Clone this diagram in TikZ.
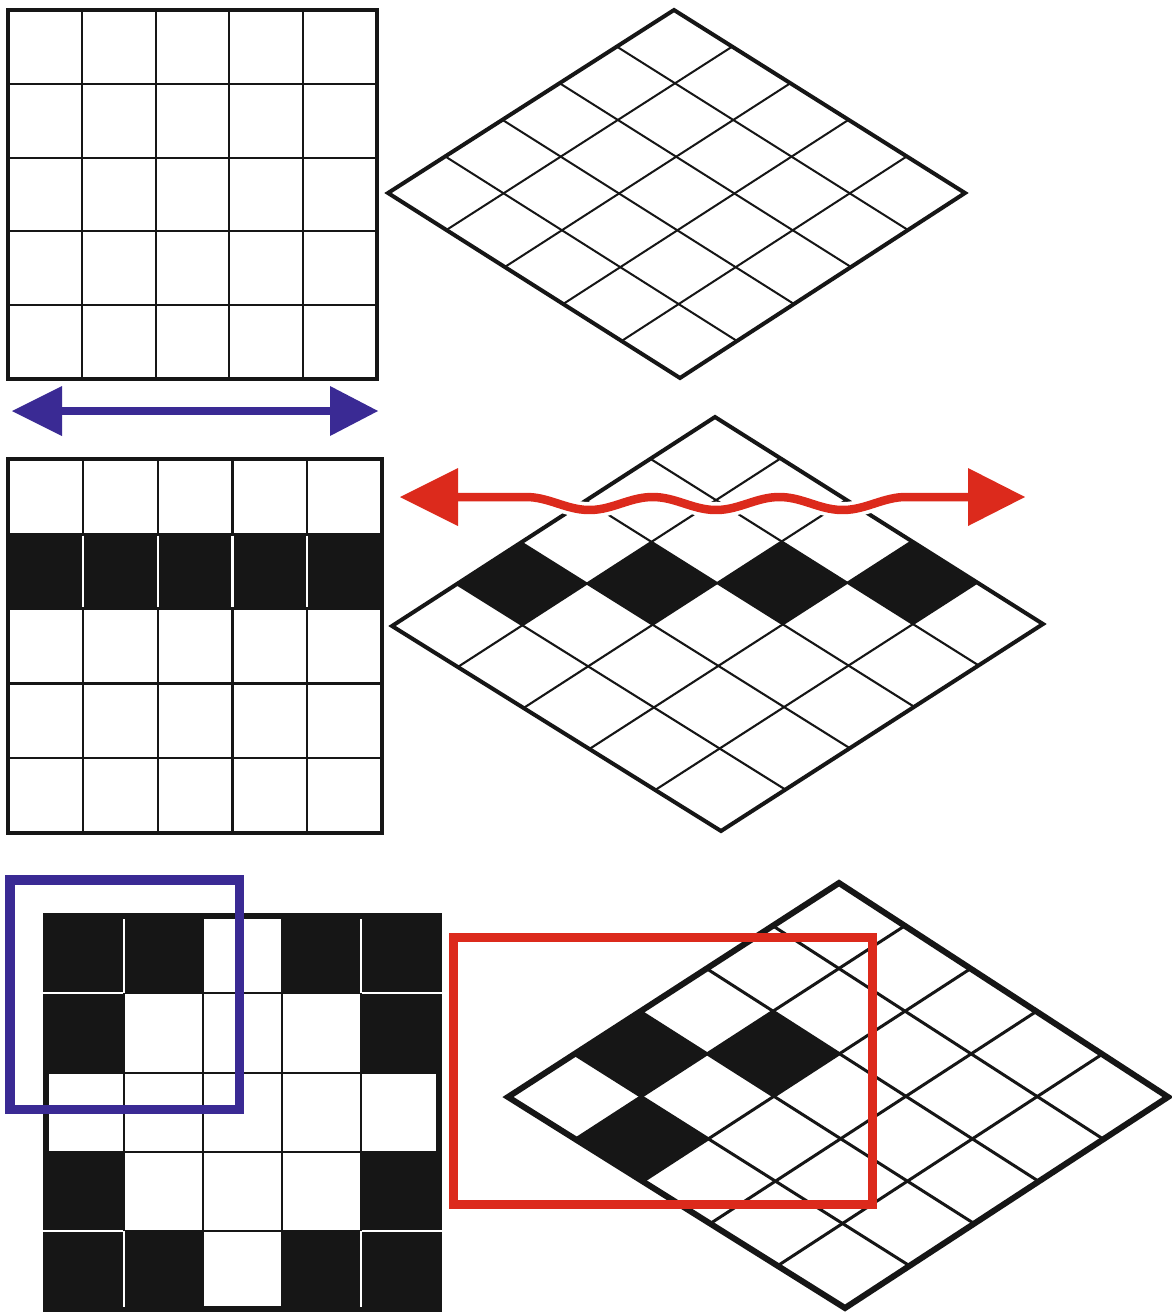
\documentclass[tikz,border=0pt]{standalone}
\usetikzlibrary{calc}
\definecolor{myblue}{HTML}{3A2A94}
\definecolor{myred}{HTML}{DC2A1C}
\definecolor{ink}{HTML}{161616}
\tikzset{
  gridline/.style={ink, line width=#1},
  frameline/.style={ink, line width=#1, line join=miter},
  whitesep/.style={white, line width=2.2},
}
\newcommand\mkgrid[5]{%
  \coordinate (#1T) at #2;
  \coordinate (#1R) at #3;
  \coordinate (#1B) at #4;
  \coordinate (#1L) at #5;
  \foreach \i in {0,...,5}{%
    \coordinate (#1l\i) at ($(#1T)!\i/5!(#1L)$);
    \coordinate (#1r\i) at ($(#1R)!\i/5!(#1B)$);
    \foreach \j in {0,...,5}{%
      \coordinate (#1-\i-\j) at ($(#1l\i)!\j/5!(#1r\i)$);
    }%
  }%
}
\newcommand\dcell[3]{%
  \pgfmathtruncatemacro\ii{#2+1}\pgfmathtruncatemacro\jj{#3+1}%
  \fill[ink] (#1-#2-#3) -- (#1-\ii-#3) -- (#1-\ii-\jj) -- (#1-#2-\jj) -- cycle;
}
\newcommand\dlines[3]{%
  \foreach \k in {1,...,4}{%
    \draw[gridline=#2] (#1-\k-0) -- (#1-\k-5);
    \draw[gridline=#2] (#1-0-\k) -- (#1-5-\k);
  }%
  \draw[frameline=#3] (#1-0-0) -- (#1-0-5) -- (#1-5-5) -- (#1-5-0) -- cycle;
}
\begin{document}
\begin{tikzpicture}[x=1pt,y=-1pt]
\useasboundingbox[fill=white] (0,0) rectangle (1171,1312);

% ---------- top-left square grid ----------
\foreach \v in {81.8,155.6,229.4,303.2}{
  \draw[gridline=2] (\v,10) -- (\v,379);
  \draw[gridline=2] (8,\v+2) -- (377,\v+2);
}
\draw[frameline=3.4] (8,10) rectangle (377,379);

% ---------- top-right diamond ----------
\mkgrid{a}{(674,10)}{(965,193)}{(680,378)}{(388,193)}
\dlines{a}{2}{4}

% ---------- blue double arrow ----------
\coordinate (bluel) at (12,411);
\coordinate (bluer) at (378,411);
\fill[myblue] (bluel) -- (62,386) -- (62,436) -- cycle;
\fill[myblue] (bluer) -- (330,386) -- (330,436) -- cycle;
\draw[myblue, line width=8.5] (60,411) -- (332,411);

% ---------- middle-left grid ----------
\foreach \v in {82.8,157.6,232.4,307.2}{
  \draw[gridline=2.2] (\v,459) -- (\v,833);
}
\foreach \v in {533.8,608.6,683.4,758.2}{
  \draw[gridline=2.2] (8,\v) -- (382,\v);
}
\fill[ink] (6.5,533) rectangle (383.5,609.4);
\foreach \v in {82.8,157.6,232.4,307.2}{
  \draw[whitesep] (\v,535.5) -- (\v,607);
}
\draw[frameline=3.4] (8,459) rectangle (382,833);

% ---------- middle-right diamond ----------
\mkgrid{b}{(715,417)}{(1043,624)}{(721,831)}{(392,626)}
\dcell{b}{3}{0}\dcell{b}{2}{1}\dcell{b}{1}{2}\dcell{b}{0}{3}
\dlines{b}{2.1}{4}

% ---------- red wavy double arrow ----------
\coordinate (redl) at (400,497);
\coordinate (redr) at (1025,497);
\draw[white, line width=16] plot[domain=0:380, samples=100] ({\x+526},{497+6.5*(1-cos(\x*2.8421))});
\draw[myred, line width=8.5, line join=round] (456,497) -- (526,497)
  -- plot[domain=0:380, samples=100] ({\x+526},{497+6.5*(1-cos(\x*2.8421))}) -- (970,497);
\fill[myred] (redl) -- (458,468) -- (458,526) -- cycle;
\fill[myred] (redr) -- (968,468) -- (968,526) -- cycle;

% ---------- bottom-left patterned grid ----------
\fill[ink] (43,913) rectangle (442,1312);
\foreach \xa/\ya/\xb/\yb in {
  204.3/919/280.7/991.7,
  125.3/994.3/201.7/1071.7, 204.3/994.3/280.7/1071.7, 283.3/994.3/359.7/1071.7,
  49/1074.3/122.7/1150.7, 125.3/1074.3/201.7/1150.7, 204.3/1074.3/280.7/1150.7,
  283.3/1074.3/359.7/1150.7, 362.3/1074.3/436/1150.7,
  125.3/1153.3/201.7/1229.7, 204.3/1153.3/280.7/1229.7, 283.3/1153.3/359.7/1229.7,
  204.3/1232.3/280.7/1306}{
  \fill[white] (\xa,\ya) rectangle (\xb,\yb);
}
\draw[whitesep] (124,919) -- (124,993);
\draw[whitesep] (361,919) -- (361,993);
\draw[whitesep] (124,1231) -- (124,1307);
\draw[whitesep] (361,1231) -- (361,1307);
\draw[whitesep] (43,993) -- (123,993);
\draw[whitesep] (362,993) -- (442,993);
\draw[whitesep] (43,1231) -- (123,1231);
\draw[whitesep] (362,1231) -- (442,1231);
\draw[myblue, line width=9.5] (10,880) rectangle (239.5,1109.5);

% ---------- bottom-right diamond ----------
\mkgrid{c}{(839,883)}{(1168,1097)}{(845,1308)}{(508,1097)}
\dcell{c}{3}{0}\dcell{c}{2}{1}\dcell{c}{4}{1}
\dlines{c}{3}{6}
\draw[myred, line width=9.5] (453.5,937.5) rectangle (872.5,1204.5);
\end{tikzpicture}
\end{document}
